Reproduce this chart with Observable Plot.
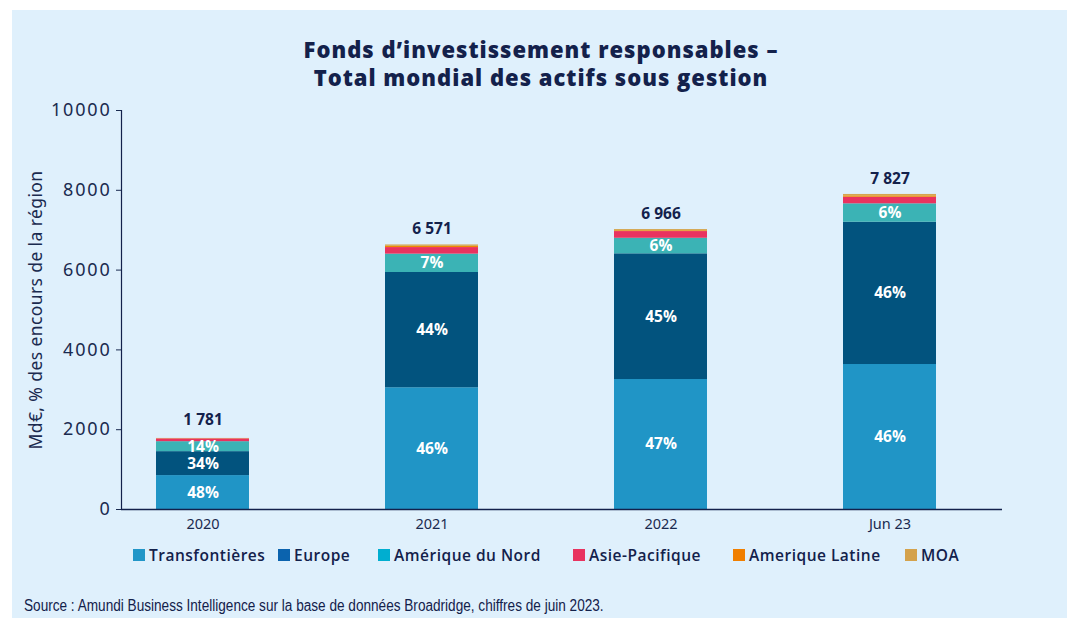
<!DOCTYPE html>
<html>
<head>
<meta charset="utf-8">
<script src="https://cdn.jsdelivr.net/npm/d3@7"></script>
<script src="https://cdn.jsdelivr.net/npm/@observablehq/plot@0.6"></script>
<style>
  html, body { margin: 0; padding: 0; background: #ffffff; }
  #page { position: relative; width: 1067px; height: 618px; overflow: hidden; font-family: "Open Sans", "Noto Sans", sans-serif; }
  #panel { position: absolute; left: 12px; top: 10px; right: 0; bottom: 0; background: #dff0fc; }
  #title { position: absolute; left: 0; width: 1082px; top: 35px; text-align: center; color: #13214b; font-weight: 800; font-size: 22px; line-height: 28px; letter-spacing: 1px; }
  #chart { position: absolute; left: 0; top: 0; }
  #chart g[aria-label="y-axis tick label"] text { letter-spacing: 1.8px; }
  #chart g[aria-label="y-axis label"] text { font-size: 17.5px; letter-spacing: 0.4px; }
  #legend { position: absolute; top: 544px; left: 0; width: 1067px; height: 20px; }
  .item { position: absolute; top: 0; display: flex; align-items: center; color: #13214b; font-size: 15.5px; font-weight: 600; white-space: nowrap; letter-spacing: 0.5px; }
  .sw { width: 12px; height: 12px; margin-right: 4px; display: inline-block; }
  #source { position: absolute; left: 24px; top: 597px; color: #13214b; font-family: "Liberation Sans Narrow", "Liberation Sans", sans-serif; font-size: 16px; white-space: nowrap; transform: scaleX(0.85); transform-origin: 0 50%; }
</style>
</head>
<body>
<div id="page">
  <div id="panel"></div>
  <div id="title">Fonds d’investissement responsables –<br>Total mondial des actifs sous gestion</div>
  <div id="chart"></div>
  <div id="legend"></div>
  <div id="source">Source : Amundi Business Intelligence sur la base de données Broadridge, chiffres de juin 2023.</div>
</div>
<script>
// ---- data ----
const periods = ["2020", "2021", "2022", "Jun 23"];
const regions = ["Transfontières", "Europe", "Amérique du Nord", "Asie-Pacifique", "Amerique Latine", "MOA"];
const transfontieres = [850, 3050, 3258, 3634];
const europe = [600, 2890, 3150, 3566];
const ameriqueNord = [250, 460, 390, 461];
const asiePacifique = [70, 165, 168, 165];
const ameriqueLatine = [5, 30, 20, 35];
const moa = [6, 35, 30, 35];
const totals = [1781, 6571, 6966, 7827];
const pctTransfontieres = ["48%", "46%", "47%", "46%"];
const pctEurope = ["34%", "44%", "45%", "46%"];
const pctAmeriqueNord = ["14%", "7%", "6%", "6%"];
const yTicks = [0, 2000, 4000, 6000, 8000, 10000];

const barColors = ["#2095c6", "#02537e", "#3bb3b5", "#e9335f", "#f08a00", "#d5a54f"];
const legendColors = ["#2196c8", "#0b63ae", "#00aed0", "#e8335f", "#f07f00", "#d4a24c"];
const legendX = [133, 278, 378, 573, 733, 905];

// ---- build table ----
const series = [transfontieres, europe, ameriqueNord, asiePacifique, ameriqueLatine, moa];
const pcts = [pctTransfontieres, pctEurope, pctAmeriqueNord];
const rows = [];
regions.forEach((r, ri) => {
  periods.forEach((p, pi) => {
    rows.push({period: p, region: r, value: series[ri][pi], pct: pcts[ri] ? pcts[ri][pi] : ""});
  });
});
const totalRows = periods.map((p, i) => ({period: p, total: totals[i]}));
const fmt = d3.formatLocale({decimal: ",", thousands: " ", grouping: [3], currency: ["", "€"]}).format(",d");

const chart = Plot.plot({
  width: 1067,
  height: 540,
  marginTop: 110,
  marginBottom: 31,
  marginLeft: 121,
  marginRight: 65,
  style: {background: "transparent", color: "#1a2a4f", overflow: "visible"},
  x: {domain: periods, paddingInner: 0.594, paddingOuter: 0.22, align: 0.35, label: null},
  y: {domain: [0, 10000], label: null},
  color: {domain: regions, range: barColors},
  marks: [
    Plot.barY(rows, {x: "period", y: "value", fill: "region", order: regions}),
    Plot.text(rows, Plot.stackY({x: "period", y: "value", z: "region", order: regions, text: "pct",
      fill: "white", fontWeight: "bold", fontSize: 15.5, fontFamily: "Open Sans, sans-serif"})),
    Plot.text(totalRows, {x: "period", y: "total", text: d => fmt(d.total), dy: -18,
      fill: "#13214b", fontWeight: "bold", fontSize: 15.5, fontFamily: "Open Sans, sans-serif"}),
    Plot.ruleY([0], {stroke: "#13214b", strokeWidth: 1.5}),
    Plot.frame({anchor: "left", stroke: "#13214b", strokeWidth: 1.2}),
    Plot.axisY({ticks: yTicks, tickSize: 5, tickPadding: 5, fontSize: 18, tickFormat: d => String(d),
      label: "Md€, % des encours de la région", labelAnchor: "center", labelOffset: 92, labelArrow: "none"}),
    Plot.axisX({tickSize: 0, tickPadding: 9, fontSize: 14.5, label: null})
  ]
});
document.getElementById("chart").appendChild(chart);

// ---- legend ----
const legend = document.getElementById("legend");
regions.forEach((r, i) => {
  const it = document.createElement("div");
  it.className = "item";
  it.style.left = legendX[i] + "px";
  const sw = document.createElement("span");
  sw.className = "sw";
  sw.style.background = legendColors[i];
  it.appendChild(sw);
  it.appendChild(document.createTextNode(r));
  legend.appendChild(it);
});
</script>
</body>
</html>
